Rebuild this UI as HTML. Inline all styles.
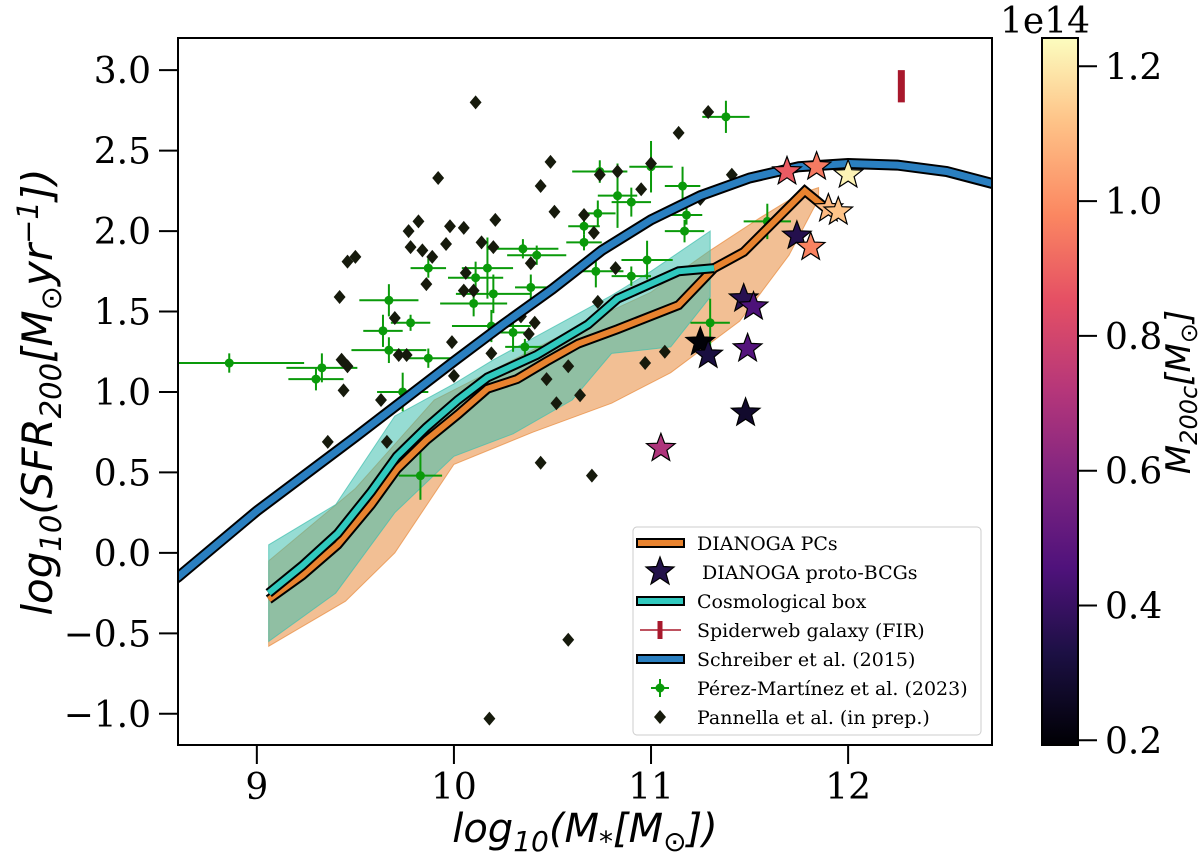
<!DOCTYPE html>
<html><head><meta charset="utf-8"><style>
html,body{margin:0;padding:0;background:#fff;}
svg{display:block;}
text{font-family:"DejaVu Serif","Liberation Serif",serif;}
.math{font-family:"DejaVu Sans","Liberation Sans",sans-serif;font-style:italic;}
</style></head><body>
<svg id="chart" width="1200" height="861" viewBox="0 0 1200 861" xmlns="http://www.w3.org/2000/svg">
<defs>
<linearGradient id="magma" x1="0" y1="1" x2="0" y2="0">
<stop offset="0" stop-color="#000004"/><stop offset="0.13" stop-color="#1c1044"/><stop offset="0.25" stop-color="#4f127b"/><stop offset="0.38" stop-color="#812581"/><stop offset="0.5" stop-color="#b5367a"/><stop offset="0.63" stop-color="#e55064"/><stop offset="0.75" stop-color="#fb8761"/><stop offset="0.88" stop-color="#fec287"/><stop offset="1" stop-color="#fcfdbf"/>
</linearGradient>
<clipPath id="plotclip"><rect x="178" y="38" width="814" height="707"/></clipPath>
</defs>
<g id="plot" clip-path="url(#plotclip)"></g>
<g id="axes"></g>
</svg>
<script>
const schreiberX=[8.5,8.6,9.0,9.5,10.0,10.25,10.5,10.75,11.0,11.25,11.5,11.75,12.0,12.25,12.5,12.75];
const schreiberY=[-0.23,-0.15,0.26,0.72,1.19,1.42,1.64,1.88,2.07,2.22,2.33,2.40,2.42,2.41,2.37,2.29];
const pcX=[9.06,9.23,9.41,9.58,9.71,9.86,10.02,10.17,10.32,10.47,10.63,10.83,11.14,11.32,11.47,11.78,11.9];
const pcY=[-0.29,-0.14,0.05,0.30,0.52,0.70,0.86,1.02,1.08,1.19,1.30,1.39,1.54,1.77,1.87,2.25,2.13];
const boxX=[9.06,9.23,9.41,9.58,9.71,9.86,10.02,10.17,10.42,10.68,10.83,11.14,11.32];
const boxY=[-0.25,-0.08,0.12,0.38,0.60,0.78,0.95,1.09,1.23,1.42,1.58,1.75,1.77];
const boxBandX=[9.06,9.4,9.7,10.0,10.2,10.5,10.8,11.0,11.3,11.3,11.1,10.8,10.6,10.3,10.0,9.7,9.4,9.06];
const boxBandY=[0.05,0.3,0.85,1.05,1.2,1.4,1.6,1.75,2.0,1.59,1.28,1.24,0.95,0.74,0.6,0.25,-0.25,-0.55];
const pcBandX=[9.06,9.5,9.9,10.3,10.7,11.0,11.3,11.55,11.75,11.85,11.85,11.7,11.45,11.1,10.8,10.4,10.0,9.7,9.45,9.06];
const pcBandY=[-0.05,0.4,0.95,1.2,1.45,1.62,1.88,2.08,2.23,2.27,2.2,1.85,1.44,1.12,0.93,0.75,0.55,0.0,-0.3,-0.58];
const starX=[11.69,11.84,12.0,11.90,11.95,11.74,11.81,11.47,11.52,11.49,11.25,11.29,11.48,11.05];
const starY=[2.37,2.40,2.35,2.14,2.12,1.97,1.90,1.58,1.53,1.27,1.31,1.23,0.87,0.65];
const starM=[0.88,0.95,1.22,1.10,1.12,0.35,0.97,0.36,0.45,0.47,0.2,0.32,0.28,0.70];
const pannX=[10.11,11.29,11.14,10.49,9.92,10.44,10.51,10.74,10.83,10.95,11.0,10.66,10.71,11.25,9.82,9.77,9.98,10.05,10.21,10.14,9.96,9.78,9.84,9.89,10.20,10.39,10.82,9.50,9.46,9.86,10.06,10.05,10.10,9.42,9.70,10.73,10.34,10.41,10.38,9.72,9.76,9.43,9.46,10.19,9.99,10.58,10.47,10.97,11.07,10.0,9.44,9.63,10.64,10.52,9.36,9.66,10.44,10.70,11.41,10.58,10.18];
const pannY=[2.80,2.74,2.61,2.43,2.33,2.28,2.12,2.35,2.37,2.26,2.42,2.10,1.99,2.20,2.06,2.0,2.03,2.02,2.07,1.93,1.92,1.90,1.88,1.84,1.90,1.80,1.77,1.84,1.81,1.67,1.74,1.63,1.63,1.59,1.46,1.56,1.47,1.43,1.36,1.23,1.23,1.20,1.16,1.24,1.31,1.16,1.08,1.18,1.25,1.10,1.01,0.95,0.98,0.93,0.69,0.69,0.56,0.48,2.35,-0.54,-1.03];
const pmX=[8.86,9.33,9.30,9.67,9.78,9.64,9.67,9.87,9.87,9.74,10.11,10.17,10.2,10.10,10.19,10.30,10.36,10.35,10.42,10.39,10.66,10.73,10.74,10.83,10.9,11.0,11.16,11.18,11.17,10.72,10.98,10.90,10.66,11.38,9.83,11.3,11.59];
const pmY=[1.18,1.15,1.08,1.57,1.43,1.38,1.26,1.21,1.77,1.0,1.71,1.77,1.61,1.55,1.41,1.37,1.28,1.89,1.85,1.65,2.03,2.11,2.37,2.22,2.18,2.40,2.28,2.10,2.0,1.75,1.82,1.72,1.93,2.71,0.48,1.43,2.06];
const pmXerr=[0.38,0.18,0.14,0.15,0.1,0.1,0.19,0.12,0.09,0.13,0.14,0.13,0.19,0.17,0.2,0.1,0.1,0.18,0.15,0.08,0.08,0.09,0.14,0.1,0.1,0.11,0.09,0.08,0.1,0.14,0.13,0.1,0.09,0.12,0.11,0.1,0.12];
const pmYerr=[0.06,0.09,0.07,0.1,0.05,0.1,0.08,0.06,0.06,0.12,0.1,0.19,0.12,0.08,0.1,0.12,0.05,0.06,0.06,0.08,0.05,0.08,0.07,0.2,0.09,0.16,0.12,0.06,0.07,0.1,0.12,0.06,0.05,0.1,0.15,0.15,0.11];
const spiderX=[12.27], spiderY=[2.9], spiderYerr=[0.1];
const xTicks=[9,10,11,12], xTickLabels=["9","10","11","12"];
const yTicks=[-1,-0.5,0,0.5,1,1.5,2,2.5,3], yTickLabels=["\u22121.0","\u22120.5","0.0","0.5","1.0","1.5","2.0","2.5","3.0"];
const cbTicks=[0.2,0.4,0.6,0.8,1.0,1.2], cbTickLabels=["0.2","0.4","0.6","0.8","1.0","1.2"];

const X0=178,X1=992,Y0=38,Y1=745,xmin=8.6,xmax=12.73,ymin=-1.194,ymax=3.2;
const CB0=1042,CB1=1078,cmin=0.193,cmax=1.242;
const sx=v=>X0+(v-xmin)/(xmax-xmin)*(X1-X0);
const sy=v=>Y1-(v-ymin)/(ymax-ymin)*(Y1-Y0);
const cy=v=>Y1-(v-cmin)/(cmax-cmin)*(Y1-Y0);
const NS="http://www.w3.org/2000/svg";
const plot=document.getElementById('plot'), axes=document.getElementById('axes');
function mk(tag,attrs,parent){const e=document.createElementNS(NS,tag);for(const k in attrs)e.setAttribute(k,attrs[k]);parent.appendChild(e);return e;}
const magmaStops=[[0,[0,0,4]],[0.13,[28,16,68]],[0.25,[79,18,123]],[0.38,[129,37,129]],[0.5,[181,54,122]],[0.63,[229,80,100]],[0.75,[251,135,97]],[0.88,[254,194,135]],[1,[252,253,191]]];
function magma(t){t=Math.max(0,Math.min(1,t));for(let i=1;i<magmaStops.length;i++){const [a,ca]=magmaStops[i-1],[b,cb]=magmaStops[i];if(t<=b){const f=(t-a)/(b-a);return 'rgb('+ca.map((c,j)=>Math.round(c+(cb[j]-c)*f)).join(',')+')';}}return 'rgb(252,253,191)';}
function pts(xs,ys){return xs.map((x,i)=>sx(x).toFixed(1)+','+sy(ys[i]).toFixed(1)).join(' ');}
function starPath(cx,cy0,r){let d='';for(let i=0;i<10;i++){const a=-Math.PI/2+i*Math.PI/5;const rr=i%2?r*0.42:r;d+=(i?'L':'M')+(cx+rr*Math.cos(a)).toFixed(1)+','+(cy0+rr*Math.sin(a)).toFixed(1);}return d+'Z';}

let e;
e=mk('polygon',{points:pts(pcBandX,pcBandY),fill:'#e88a3c','fill-opacity':0.55,stroke:'#e88a3c','stroke-opacity':0.7,'stroke-width':1},plot);


e=mk('polygon',{points:pts(boxBandX,boxBandY),fill:'#3fbfae','fill-opacity':0.55,stroke:'#3fbfae','stroke-opacity':0.7,'stroke-width':1},plot);



const gpm=mk('g',{},plot);


pmX.forEach((x,i)=>{
  const px=sx(x),py=sy(pmY[i]);
  mk('line',{x1:sx(x-pmXerr[i]),x2:sx(x+pmXerr[i]),y1:py,y2:py,stroke:'#0a9a0a','stroke-width':2},gpm);
  mk('line',{x1:px,x2:px,y1:sy(pmY[i]-pmYerr[i]),y2:sy(pmY[i]+pmYerr[i]),stroke:'#0a9a0a','stroke-width':2},gpm);
  const c=mk('circle',{cx:px,cy:py,r:4.5,fill:'#0a9a0a'},gpm);
  
  
});
const gpa=mk('g',{},plot);


pannX.forEach((x,i)=>{
  const px=sx(x),py=sy(pannY[i]),r=7;
  const d=mk('polygon',{points:`${px},${py-r} ${px+r*0.85},${py} ${px},${py+r} ${px-r*0.85},${py}`,fill:'#161a0c'},gpa);
  
  
});
function thickLine(xs,ys,color,name,w){
  const g=mk('g',{},plot);
  
  
  mk('polyline',{points:pts(xs,ys),fill:'none',stroke:'#000','stroke-width':w+4,'stroke-linejoin':'miter'},g);
  mk('polyline',{points:pts(xs,ys),fill:'none',stroke:color,'stroke-width':w,'stroke-linejoin':'miter'},g);
}
thickLine(schreiberX,schreiberY,'#2a7fc0','schreiber-line',7);
thickLine(pcX,pcY,'#e8832f','dianoga-pc-line',6);
thickLine(boxX,boxY,'#30c9be','cosmological-box-line',6);
spiderX.forEach((x,i)=>{
  const l=mk('line',{x1:sx(x),x2:sx(x),y1:sy(spiderY[i]-spiderYerr[i]),y2:sy(spiderY[i]+spiderYerr[i]),stroke:'#a8182c','stroke-width':7},plot);
  
  
});
const gst=mk('g',{},plot);


starX.forEach((x,i)=>{
  const s=mk('path',{d:starPath(sx(x),sy(starY[i]),15),fill:magma((starM[i]-cmin)/(cmax-cmin)),stroke:'#000','stroke-width':1.2},gst);
  
  
});

mk('rect',{x:X0,y:Y0,width:X1-X0,height:Y1-Y0,fill:'none',stroke:'#000','stroke-width':2},axes);
xTicks.forEach((t,i)=>{
  mk('line',{x1:sx(t),x2:sx(t),y1:Y1,y2:Y1+19,stroke:'#000','stroke-width':2},axes);
  const tx=mk('text',{x:sx(t),y:Y1+54,'text-anchor':'middle','font-size':36},axes);tx.textContent=xTickLabels[i];
  
  
});
yTicks.forEach((t,i)=>{
  mk('line',{x1:X0-19,x2:X0,y1:sy(t),y2:sy(t),stroke:'#000','stroke-width':2},axes);
  const tx=mk('text',{x:X0-27,y:sy(t)+13,'text-anchor':'end','font-size':36},axes);tx.textContent=yTickLabels[i];
  
  
});
e=mk('rect',{x:CB0,y:Y0,width:CB1-CB0,height:Y1-Y0,fill:'url(#magma)',stroke:'#000','stroke-width':2},axes);


cbTicks.forEach((t,i)=>{
  mk('line',{x1:CB1,x2:CB1+19,y1:cy(t),y2:cy(t),stroke:'#000','stroke-width':2},axes);
  const tx=mk('text',{x:CB1+27,y:cy(t)+13,'font-size':36},axes);tx.textContent=cbTickLabels[i];
  
  
});
</script>
<svg style="position:absolute;left:0;top:0" width="1200" height="861">
<text x="1000" y="33" font-size="36">1e14</text>
<text x="585" y="842" text-anchor="middle" font-size="40" class="math">log<tspan font-size="28" dy="9">10</tspan><tspan dy="-9">(M</tspan><tspan font-size="28" dy="9">*</tspan><tspan dy="-9">[M</tspan><tspan font-size="28" dy="9">⊙</tspan><tspan dy="-9">])</tspan></text>
<text transform="translate(52,392) rotate(-90)" text-anchor="middle" font-size="42" class="math">log<tspan font-size="29" dy="9">10</tspan><tspan dy="-9">(SFR</tspan><tspan font-size="29" dy="9">200</tspan><tspan dy="-9">[M</tspan><tspan font-size="29" dy="9">⊙</tspan><tspan dy="-9">yr</tspan><tspan font-size="29" dy="-14">−1</tspan><tspan dy="14">])</tspan></text>
<text transform="translate(1190,392) rotate(-90)" text-anchor="middle" font-size="34" class="math">M<tspan font-size="24" dy="7">200c</tspan><tspan dy="-7">[M</tspan><tspan font-size="24" dy="7">⊙</tspan><tspan dy="-7">]</tspan></text>
<g font-size="19">
<rect x="633" y="527" width="348" height="208" rx="4" fill="#fff" fill-opacity="0.85" stroke="#ccc" stroke-width="1"/>
<rect x="637" y="539" width="47" height="8" fill="#e8832f" stroke="#000" stroke-width="2"/>
<text x="697" y="550">DIANOGA PCs</text>
<path d="M660,557 L663.5,566.5 L674,567 L666,573.5 L669,584 L660,578 L651,584 L654,573.5 L646,567 L656.5,566.5Z" fill="#23124a" stroke="#000" stroke-width="1.2"/>
<text x="702" y="579">DIANOGA proto-BCGs</text>
<rect x="637" y="597" width="47" height="8" fill="#30c9be" stroke="#000" stroke-width="2"/>
<text x="697" y="608">Cosmological box</text>
<line x1="640" y1="630" x2="681" y2="630" stroke="#a8182c" stroke-width="1.5"/><line x1="660" y1="621" x2="660" y2="639" stroke="#a8182c" stroke-width="5"/>
<text x="697" y="637">Spiderweb galaxy (FIR)</text>
<rect x="637" y="655" width="47" height="8" fill="#2a7fc0" stroke="#000" stroke-width="2"/>
<text x="697" y="666">Schreiber et al. (2015)</text>
<line x1="651" y1="688" x2="669" y2="688" stroke="#0a9a0a" stroke-width="2"/><line x1="660" y1="679" x2="660" y2="697" stroke="#0a9a0a" stroke-width="2"/><circle cx="660" cy="688" r="4.5" fill="#0a9a0a"/>
<text x="697" y="695">Pérez-Martínez et al. (2023)</text>
<polygon points="660,710 666,717 660,724 654,717" fill="#161a0c"/>
<text x="697" y="724">Pannella et al. (in prep.)</text>
</g>
</svg>
</body></html>
